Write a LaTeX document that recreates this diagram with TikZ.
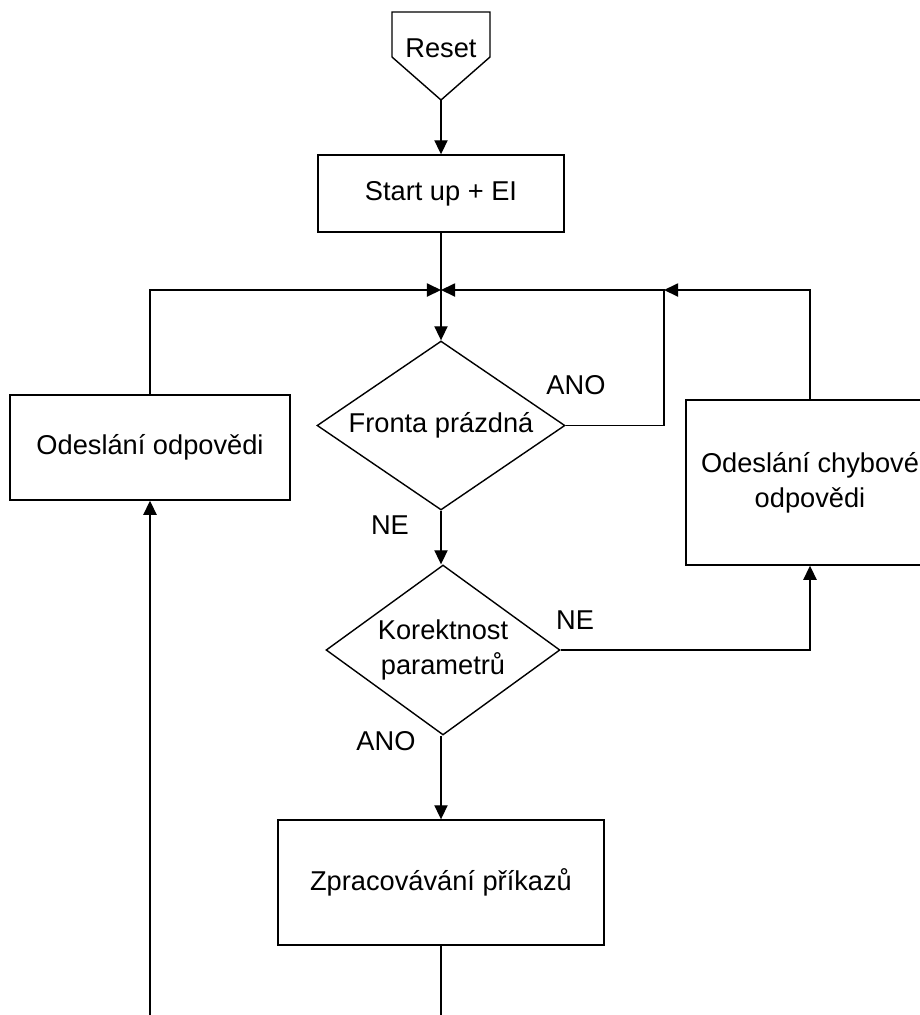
\documentclass[tikz,border=0pt]{standalone}
\usepackage{fontspec}
\setmainfont{Liberation Sans}
\usepackage{tikz}
\usetikzlibrary{shapes.geometric, arrows.meta, positioning}

\begin{document}
\begin{tikzpicture}[x=0.02cm, y=-0.02cm,
    line width=0.8pt,
    every node/.style={font=\fontsize{15.5}{18}\selectfont},
    flow/.style={-{Triangle[length=8pt, width=7.5pt]}},
    box/.style={draw, rectangle, align=center, inner sep=0pt},
    decision/.style={draw, diamond, align=center, inner sep=0pt, aspect=1.45},
    lbl/.style={inner sep=0pt}]
  \clip (0,0) rectangle (920,1015);

  % vstup
  \draw (392,12) -- (490,12) -- (490,57) -- (441,100) -- (392,57) -- cycle;
  \node (reset) at (441,48) {Reset};
  \coordinate (resetTip) at (441,100);

  \node[box, minimum width=4.92cm, minimum height=1.54cm] (start) at (441,193.5) {Start up + EI};
  \coordinate (join) at (441,290);
  \coordinate (upR) at (664,290);

  \node[decision, minimum width=4.96cm, minimum height=3.38cm] (fronta) at (441,425.5) {Fronta prázdná};
  \node[decision, minimum width=4.68cm, minimum height=3.4cm] (korekt) at (443,650) {Korektnost\\[2pt]parametrů};

  \node[box, minimum width=5.6cm, minimum height=2.1cm] (odp) at (150,447.5) {Odeslání odpovědi};
  \node[box, minimum width=4.96cm, minimum height=3.3cm] (chyba) at (810,482.5) {Odeslání chybové\\[2pt]odpovědi};
  \node[box, minimum width=6.52cm, minimum height=2.5cm] (zprac) at (441,882.5) {Zpracovávání příkazů};

  \coordinate (botL) at (150,1030);
  \coordinate (botR) at (441,1030);

  \node[lbl] (anoA) at (576,385) {ANO};
  \node[lbl] (neA) at (390,525) {NE};
  \node[lbl] (neB) at (575,620) {NE};
  \node[lbl] (anoB) at (386,741) {ANO};

  % spojnice
  \draw[flow] (resetTip) -- (start.north);
  \draw (start.south) -- (join);
  \draw[flow] (join) -- (fronta.north);
  \draw[flow] (odp.north) |- (join);
  \draw[flow] (fronta.east) -| (upR) -- (join);
  \draw[flow] (chyba.north) |- (upR);
  \draw[flow] (fronta.south) -- (korekt.north -| fronta.south);
  \draw[flow] (korekt.east) -| (chyba.south);
  \draw[flow] (korekt.south -| fronta.south) -- (zprac.north);
  \draw (zprac.south) -- (botR);
  \draw[flow] (botL) -- (odp.south);
\end{tikzpicture}
\end{document}
